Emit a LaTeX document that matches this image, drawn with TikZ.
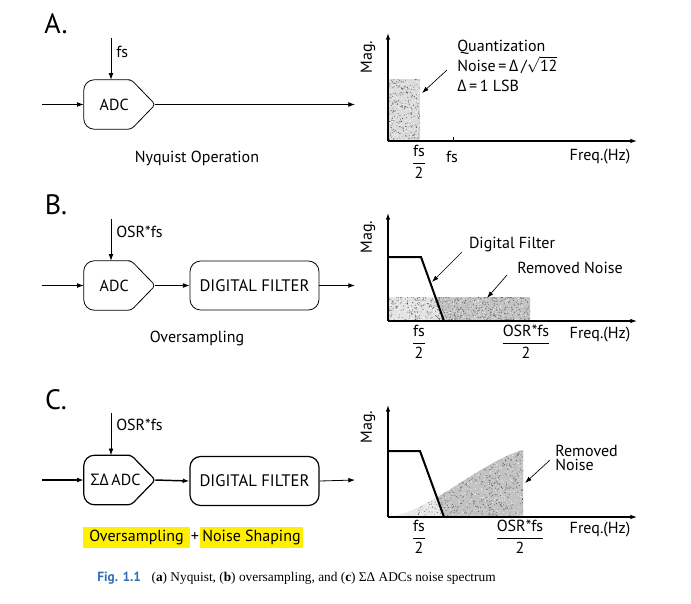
\documentclass[tikz,border=0pt]{standalone}
\usepackage{amsmath}
\usepackage{fontspec}
\setmainfont{PT Sans}
\newfontfamily\grk{Open Sans}
\newfontfamily\capserif{Liberation Serif}
\usetikzlibrary{arrows.meta}
\definecolor{hl}{RGB}{255,240,0}
\definecolor{capblue}{RGB}{46,112,181}
\newcommand\speck[5]{%
  \foreach \i in {1,...,#5}{\fill[black, opacity=0.5] ({#1+#3*rnd},{#2+#4*rnd}) circle (0.4pt);}
  \foreach \i in {1,...,#5}{\fill[white, opacity=0.7] ({#1+#3*rnd},{#2+#4*rnd}) circle (0.4pt);}
}
\newcommand\adcdraw[2]{%
  \draw[#2] (#1.north) [rounded corners=2.5pt] -- ([xshift=-18pt]#1.north east) -- (#1.east) -- ([xshift=-18pt]#1.south east) -- (#1.south) [rounded corners=8pt] -- (#1.south west) -- (#1.north west) -- cycle;
}
\begin{document}
\begin{tikzpicture}[x=0.75pt,y=-0.75pt,
  lbl/.style={inner sep=0pt, font=\fontsize{12}{14}\selectfont},
  big/.style={inner sep=0pt, font=\fontsize{21}{24}\selectfont},
  blk/.style={draw, line width=0.6pt},
  blkc/.style={draw, line width=0.9pt},
  sig/.style={-{Latex[length=5pt,width=3.6pt]}, line width=0.6pt},
  sigc/.style={-{Latex[length=5pt,width=3.6pt]}, line width=1.1pt},
  axis/.style={-{Latex[length=5pt,width=3.4pt]}, line width=0.8pt},
  filt/.style={line width=1.5pt},
  ann/.style={-{Latex[length=5pt,width=3.4pt]}, line width=0.5pt},
  adcn/.style={minimum width=53.25pt, minimum height=36.75pt, inner sep=0pt},
  dfbox/.style={rounded corners=8pt, minimum width=96.75pt, minimum height=36.75pt, inner sep=0pt, font=\fontsize{12.5}{14}\selectfont},
  hlbox/.style={fill=hl, inner sep=0pt, minimum height=15.75pt, font=\fontsize{12}{14}\selectfont},
]
\useasboundingbox (0,0) rectangle (691,603);
\pgfmathsetseed{7}

% ---------------- A ----------------
\node[big] (labA) at (56,24) {A.};
\node[adcn] (adcA) at (119.5,104.5) {};
\adcdraw{adcA}{blk}
\node[lbl] (adcAt) at ([xshift=-4pt]adcA.center) {ADC};
\coordinate (clkA) at (111,38);
\coordinate (inA) at (42,104.5);
\coordinate (outA) at (355,104.5);
\draw[sig] (clkA) -- (clkA |- adcA.north);
\node[lbl, anchor=west] (fsA) at (116,52) {fs};
\draw[sig] (inA) -- (adcA.west);
\draw[sig] (adcA.east) -- (outA);
\node[lbl] (capA) at (197,158) {Nyquist Operation};

% plot A
\begin{scope}
  \clip (388,79) rectangle (420,141);
  \fill[gray!28] (388,79) rectangle (420,141);
  \speck{388}{79}{32}{62}{260}
\end{scope}
\coordinate (oA) at (388,141);
\coordinate (yA) at (388,33);
\coordinate (xA) at (637,141);
\draw[axis] (oA) -- (yA);
\draw[axis] (oA) -- (xA);
\draw[line width=0.6pt] (453,141) -- (453,137);
\node[lbl, rotate=90] (magA) at (368,57) {Mag.};
\node[lbl] (f2A) at (419,162) {$\dfrac{\text{fs}}{\text{2}}$};
\node[lbl] (fsxA) at (452,157) {fs};
\node[lbl] (frA) at (600,157) {Freq.(Hz)};
\node[lbl, anchor=west, align=left, font=\fontsize{12}{15}\selectfont] (qA) at (457,66) {Quantization\\Noise\,=\,{\grk Δ}\,/\smash{$\sqrt{\text{12}}$}\\{\grk Δ}\,=\,1 LSB};
\coordinate (qAs) at (447,70);
\coordinate (qAe) at (422,93);
\draw[ann] (qAs) -- (qAe);

% ---------------- B ----------------
\node[big] (labB) at (56,205) {B.};
\node[adcn] (adcB) at (119.5,285.5) {};
\adcdraw{adcB}{blk}
\node[lbl] (adcBt) at ([xshift=-4pt]adcB.center) {ADC};
\node[dfbox, blk] (dfB) at (254.5,285.5) {DIGITAL FILTER};
\coordinate (clkB) at (111,219);
\coordinate (inB) at (42,285.5);
\coordinate (outB) at (355,285.5);
\draw[sig] (clkB) -- (clkB |- adcB.north);
\node[lbl, anchor=west] (fsB) at (116,232) {OSR*fs};
\draw[sig] (inB) -- (adcB.west);
\draw[sig] (adcB.east) -- (dfB.west);
\draw[sig] (dfB.east) -- (outB);
\node[lbl] (capB) at (197,338) {Oversampling};

% plot B
\begin{scope}
  \clip (388,297) rectangle (530,321);
  \fill[gray!22] (388,297) rectangle (530,321);
  \fill[gray!48] (435.4,297) -- (530,297) -- (530,321) -- (444,321) -- cycle;
  \speck{388}{297}{142}{24}{520}
\end{scope}
\coordinate (oB) at (388,321);
\coordinate (yB) at (388,213);
\coordinate (xB) at (637,321);
\draw[axis] (oB) -- (yB);
\draw[axis] (oB) -- (xB);
\coordinate (fB1) at (388,257);
\coordinate (fB2) at (421,257);
\coordinate (fB3) at (444,321);
\draw[filt] (fB1) -- (fB2) -- (fB3);
\node[lbl, rotate=90] (magB) at (368,237) {Mag.};
\node[lbl] (f2B) at (419,342) {$\dfrac{\text{fs}}{\text{2}}$};
\node[lbl] (osrB) at (526,342) {$\dfrac{\text{OSR*fs}}{\text{2}}$};
\node[lbl] (frB) at (600,335) {Freq.(Hz)};
\node[lbl] (dfl) at (512,245) {Digital Filter};
\node[lbl] (rnB) at (570,268) {Removed Noise};
\coordinate (dfs) at (462,252);
\coordinate (dfe) at (432,282);
\draw[ann] (dfs) -- (dfe);
\coordinate (rnBs) at (507,275);
\coordinate (rnBe) at (487,298);
\draw[ann] (rnBs) -- (rnBe);

% ---------------- C ----------------
\node[big] (labC) at (56,400) {C.};
\node[adcn] (adcC) at (119.5,480) {};
\adcdraw{adcC}{blkc}
\node[lbl] (adcCt) at ([xshift=-3pt]adcC.center) {{\grk ΣΔ}\,ADC};
\node[dfbox, blkc] (dfC) at (254.5,481) {DIGITAL FILTER};
\coordinate (clkC) at (111,413);
\coordinate (inC) at (42,480);
\coordinate (outC) at (355,480);
\draw[sig] (clkC) -- (clkC |- adcC.north);
\node[lbl, anchor=west] (fsC) at (116,425) {OSR*fs};
\draw[sigc] (inC) -- (adcC.west);
\draw[sigc] (adcC.east) -- (dfC.west);
\draw[sig] (dfC.east) -- (outC);
\node[hlbox, minimum width=80pt] (ovC) at (136.5,537.5) {Oversampling};
\node[lbl] (plusC) at (195,537.5) {+};
\node[hlbox, minimum width=77pt] (nsC) at (251.5,537.5) {Noise Shaping};

% plot C
\begin{scope}
  \clip (388,517) .. controls (430,512) and (480,462) .. (523,450) -- (523,517) -- cycle;
  \fill[gray!18] (388,440) rectangle (530,517);
  \fill[gray!48] (420,440) -- (530,440) -- (530,517) -- (444,517) -- cycle;
  \speck{388}{448}{136}{69}{800}
\end{scope}
\coordinate (oC) at (388,517);
\coordinate (yC) at (388,405);
\coordinate (xC) at (637,517);
\draw[axis] (oC) -- (yC);
\draw[axis] (oC) -- (xC);
\coordinate (fC1) at (388,451);
\coordinate (fC2) at (420,451);
\coordinate (fC3) at (444,517);
\draw[filt] (fC1) -- (fC2) -- (fC3);
\node[lbl, rotate=90] (magC) at (368,427) {Mag.};
\node[lbl] (f2C) at (419,537) {$\dfrac{\text{fs}}{\text{2}}$};
\node[lbl] (osrC) at (520,537) {$\dfrac{\text{OSR*fs}}{\text{2}}$};
\node[lbl] (frC) at (600,530) {Freq.(Hz)};
\node[lbl, anchor=west, align=left, font=\fontsize{12}{10.5}\selectfont] (rnC) at (555,458) {Removed\\Noise};
\coordinate (rnCs) at (550,460);
\coordinate (rnCe) at (525,483);
\draw[ann] (rnCs) -- (rnCe);

% caption
\node[inner sep=0pt, anchor=west] (cap) at (97,578) {{\fontsize{10}{12}\selectfont\bfseries\color{capblue}Fig. 1.1}\hspace{8pt}{\capserif\fontsize{10}{12}\selectfont(\textbf{a}) Nyquist, (\textbf{b}) oversampling, and (\textbf{c}) ΣΔ ADCs noise spectrum}};
\end{tikzpicture}
\end{document}
